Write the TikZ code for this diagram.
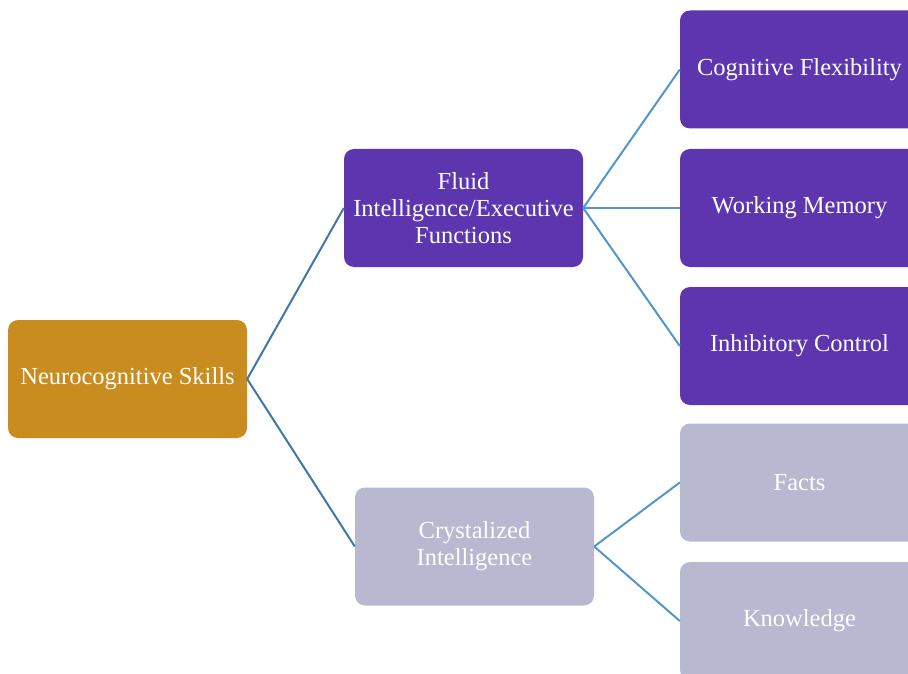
\documentclass[tikz,border=0pt]{standalone}
\usepackage{fontspec}
\setmainfont{Liberation Serif}
\definecolor{purp}{HTML}{5C35AF}
\definecolor{gold}{HTML}{C98D1F}
\definecolor{lav}{HTML}{B8B8D1}
\definecolor{lnA}{HTML}{3F77AB}
\definecolor{lnB}{HTML}{5296CC}
\begin{document}
\begin{tikzpicture}[x=1pt,y=-1pt,
  box/.style={rounded corners=10pt,minimum width=239pt,minimum height=118pt,inner sep=0pt,
    text=white,align=center,font=\fontsize{24.5}{27}\selectfont,anchor=center},
  pbox/.style={box,fill=purp},
  gbox/.style={box,fill=gold},
  lbox/.style={box,fill=lav},
  conA/.style={draw=lnA,line width=2pt},
  conB/.style={draw=lnB,line width=2pt}]
\useasboundingbox (0,0) rectangle (908,674);
\clip (0,0) rectangle (908,674);
\node[gbox] (root) at (127.5,379) {Neurocognitive Skills};
\node[pbox] (fluid) at (463.5,208) {Fluid\\Intelligence/Executive\\Functions};
\node[lbox] (cryst) at (474.5,546.5) {Crystalized\\Intelligence};
\node[pbox] (cf) at (799.5,69.5) {Cognitive Flexibility};
\node[pbox] (wm) at (799.5,208) {Working Memory};
\node[pbox] (ic) at (799.5,346) {Inhibitory Control};
\node[lbox] (facts) at (799.5,482.5) {Facts};
\node[lbox] (know) at (799.5,621) {Knowledge};
\draw[conA] (root.east) -- (fluid.west);
\draw[conA] (root.east) -- (cryst.west);
\draw[conB] (fluid.east) -- (cf.west);
\draw[conB] (fluid.east) -- (wm.west);
\draw[conB] (fluid.east) -- (ic.west);
\draw[conB] (cryst.east) -- (facts.west);
\draw[conB] (cryst.east) -- (know.west);
\end{tikzpicture}
\end{document}
